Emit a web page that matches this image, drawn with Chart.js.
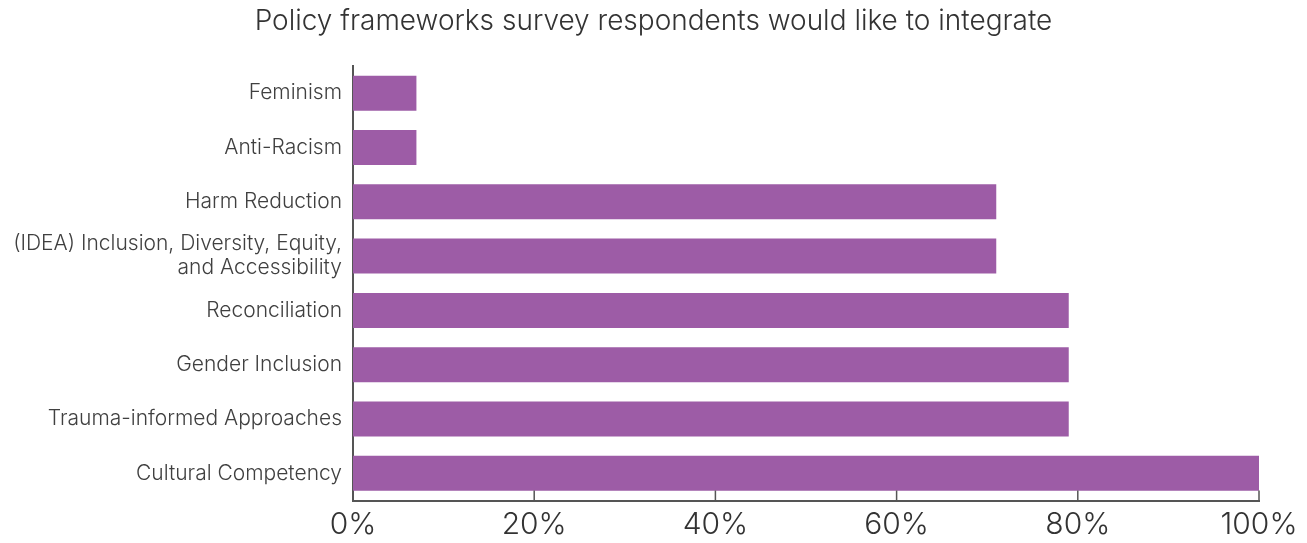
<!DOCTYPE html>
<html>
<head>
<meta charset="utf-8">
<script src="https://cdn.jsdelivr.net/npm/chart.js@4/dist/chart.umd.min.js"></script>
<style>
html,body{margin:0;padding:0;background:#fff;}
#wrap{width:1307px;height:543px;position:relative;}
</style>
</head>
<body>
<div id="wrap"><canvas id="c"></canvas></div>
<script>
const categories = [
  'Feminism',
  'Anti-Racism',
  'Harm Reduction',
  ['(IDEA) Inclusion, Diversity, Equity,', 'and Accessibility'],
  'Reconciliation',
  'Gender Inclusion',
  'Trauma-informed Approaches',
  'Cultural Competency'
];
const values = [7, 7, 71, 71, 79, 79, 79, 100];
const xTicks = [0, 20, 40, 60, 80, 100];
const titleText = 'Policy frameworks survey respondents would like to integrate';

const FONT = 'Inter, "Open Sans", sans-serif';
const AXIS = '#555555';

const tickStubs = {
  id: 'tickStubs',
  afterDraw(chart) {
    const x = chart.scales.x, ctx = chart.ctx;
    const bottom = chart.chartArea.bottom;
    ctx.save();
    ctx.strokeStyle = AXIS;
    ctx.lineWidth = 1.5;
    xTicks.forEach(v => {
      if (v === 0) return;
      const px = x.getPixelForValue(v);
      ctx.beginPath();
      ctx.moveTo(px, bottom);
      ctx.lineTo(px, bottom - 10);
      ctx.stroke();
    });
    ctx.restore();
  }
};

new Chart(document.getElementById('c'), {
  type: 'bar',
  data: {
    labels: categories,
    datasets: [{
      data: values,
      backgroundColor: '#9d5ca6',
      barPercentage: 0.645,
      categoryPercentage: 1.0
    }]
  },
  plugins: [tickStubs],
  options: {
    indexAxis: 'y',
    responsive: true,
    maintainAspectRatio: false,
    animation: false,
    layout: { padding: 0 },
    plugins: {
      legend: { display: false },
      tooltip: { enabled: false },
      title: {
        display: true,
        text: titleText,
        color: '#333333',
        font: { family: FONT, size: 28, weight: 300, lineHeight: 1.2 },
        padding: { top: 5, bottom: 27.4 }
      }
    },
    scales: {
      x: {
        min: 0, max: 100,
        afterBuildTicks(scale) { scale.ticks = xTicks.map(v => ({ value: v })); },
        afterFit(scale) { scale.height = 42.5; scale.paddingRight = 48; },
        grid: { display: false, drawTicks: false },
        border: { display: true, color: AXIS, width: 2 },
        ticks: {
          color: '#333333',
          font: { family: FONT, size: 30, weight: 300 },
          padding: 6,
          maxRotation: 0,
          autoSkip: false,
          callback: v => v + '%'
        }
      },
      y: {
        afterFit(scale) { scale.width = 353; },
        grid: { display: false, drawTicks: false },
        border: { display: true, color: AXIS, width: 2 },
        ticks: {
          color: '#404040',
          font: { family: FONT, size: 21, weight: 300, lineHeight: 1.15 },
          padding: 11,
          autoSkip: false
        }
      }
    }
  }
});
</script>
</body>
</html>
